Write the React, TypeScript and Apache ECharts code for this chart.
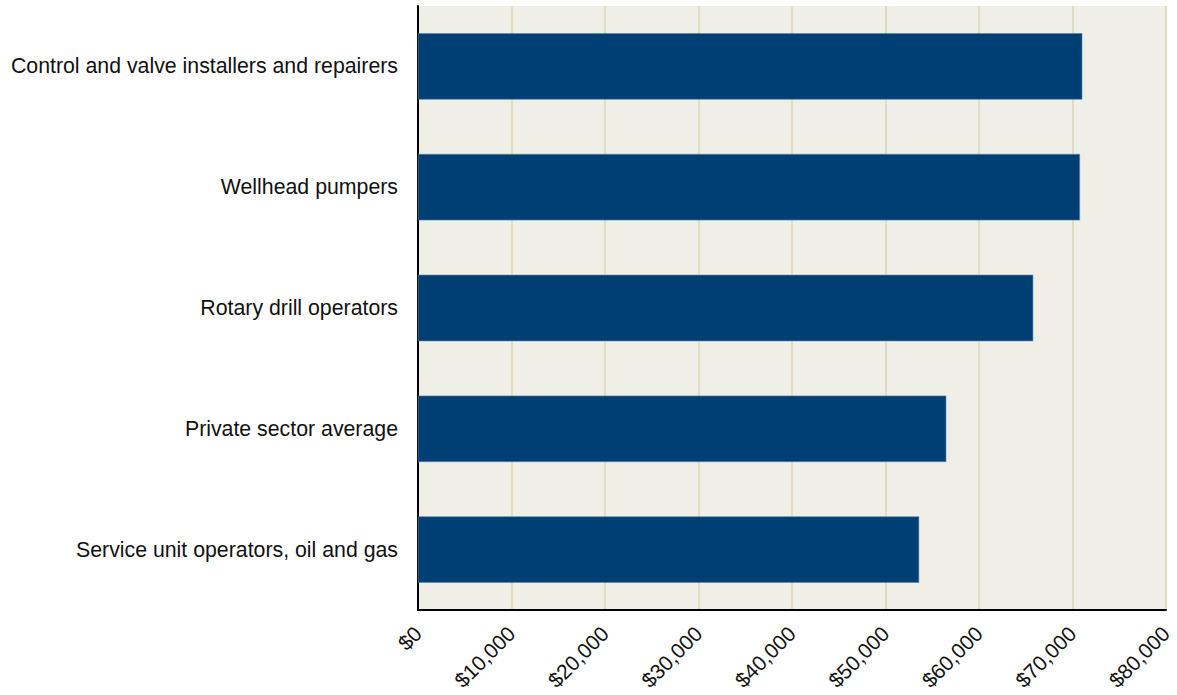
import React, { useEffect, useRef } from "react";
import * as echarts from "echarts";

const categories = [
  "Control and valve installers and repairers",
  "Wellhead pumpers",
  "Rotary drill operators",
  "Private sector average",
  "Service unit operators, oil and gas",
];
const wages = [71050, 70800, 65800, 56500, 53600];

export default function App() {
  const ref = useRef<HTMLDivElement>(null);
  useEffect(() => {
    if (!ref.current) return;
    const chart = echarts.init(ref.current, undefined, { renderer: "svg" });
    chart.setOption({
      animation: false,
      grid: {
        left: 418,
        right: 11,
        top: 6,
        bottom: 85,
        show: true,
        backgroundColor: "#f0efe7",
        borderWidth: 0,
      },
      xAxis: {
        type: "value",
        min: 0,
        max: 80000,
        interval: 10000,
        axisLine: { show: true, lineStyle: { color: "#000", width: 2 } },
        axisTick: { show: false },
        splitLine: { show: true, lineStyle: { color: "#e0dcc4", width: 2 } },
        axisLabel: {
          rotate: 45,
          margin: 20,
          color: "#111",
          fontFamily: "Liberation Sans, Arial, sans-serif",
          fontSize: 21,
          formatter: (v: number) => "$" + v.toLocaleString("en-US"),
        },
      },
      yAxis: {
        type: "category",
        data: categories,
        inverse: true,
        axisLine: { show: true, lineStyle: { color: "#000", width: 2 } },
        axisTick: { show: false },
        splitLine: { show: false },
        axisLabel: {
          margin: 20,
          color: "#111",
          fontFamily: "Liberation Sans, Arial, sans-serif",
          fontSize: 21.3,
          padding: [8, 0, 0, 0],
        },
      },
      series: [
        {
          type: "bar",
          data: wages,
          barWidth: "55%",
          itemStyle: {
            color: "#003f73",
            borderColor: "#5b84ab",
            borderWidth: 0.6,
          },
        },
      ],
    });
    return () => chart.dispose();
  }, []);
  return (
    <div
      ref={ref}
      style={{ position: "fixed", left: 0, top: 0, width: 1177, height: 695, background: "#fff" }}
    />
  );
}
